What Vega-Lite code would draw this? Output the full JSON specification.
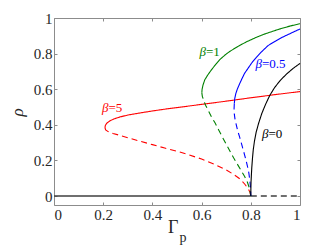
{
  "$schema": "https://vega.github.io/schema/vega-lite/v6.json",
  "width": 246,
  "height": 187,
  "autosize": {"type": "none"},
  "padding": {"left": 54, "top": 18, "right": 32, "bottom": 44},
  "background": "white",
  "config": {
    "view": {"stroke": null},
    "axis": {
      "labelFont": "Liberation Serif, serif",
      "labelFontSize": 15,
      "labelColor": "#262626",
      "domainColor": "#8c8c8c",
      "tickColor": "#8c8c8c",
      "tickSize": -3,
      "grid": false,
      "labelPadding": 5
    },
    "text": {"font": "Liberation Serif, serif"}
  },
  "datasets": {
    "curves": [
      {"g": "zero_s", "s": "zero", "d": "solid", "i": 0, "x": 0, "y": 0},
      {"g": "zero_s", "s": "zero", "d": "solid", "i": 1, "x": 0.8, "y": 0},
      {"g": "zero_d", "s": "zero", "d": "dashed", "i": 0, "x": 0.8, "y": 0},
      {"g": "zero_d", "s": "zero", "d": "dashed", "i": 1, "x": 1.0, "y": 0},

      {"g": "b5u", "s": "b5", "d": "solid", "i": 0, "x": 0.207, "y": 0.385},
      {"g": "b5u", "s": "b5", "d": "solid", "i": 1, "x": 0.209, "y": 0.398},
      {"g": "b5u", "s": "b5", "d": "solid", "i": 2, "x": 0.215, "y": 0.41},
      {"g": "b5u", "s": "b5", "d": "solid", "i": 3, "x": 0.228, "y": 0.423},
      {"g": "b5u", "s": "b5", "d": "solid", "i": 4, "x": 0.245, "y": 0.434},
      {"g": "b5u", "s": "b5", "d": "solid", "i": 5, "x": 0.27, "y": 0.445},
      {"g": "b5u", "s": "b5", "d": "solid", "i": 6, "x": 0.3, "y": 0.455},
      {"g": "b5u", "s": "b5", "d": "solid", "i": 7, "x": 0.35, "y": 0.467},
      {"g": "b5u", "s": "b5", "d": "solid", "i": 8, "x": 0.4, "y": 0.478},
      {"g": "b5u", "s": "b5", "d": "solid", "i": 9, "x": 0.45, "y": 0.488},
      {"g": "b5u", "s": "b5", "d": "solid", "i": 10, "x": 0.5, "y": 0.497},
      {"g": "b5u", "s": "b5", "d": "solid", "i": 11, "x": 0.6, "y": 0.515},
      {"g": "b5u", "s": "b5", "d": "solid", "i": 12, "x": 0.7, "y": 0.533},
      {"g": "b5u", "s": "b5", "d": "solid", "i": 13, "x": 0.8, "y": 0.552},
      {"g": "b5u", "s": "b5", "d": "solid", "i": 14, "x": 0.9, "y": 0.57},
      {"g": "b5u", "s": "b5", "d": "solid", "i": 15, "x": 1.0, "y": 0.587},

      {"g": "b5l", "s": "b5", "d": "dashed", "i": 0, "x": 0.207, "y": 0.385},
      {"g": "b5l", "s": "b5", "d": "dashed", "i": 1, "x": 0.21, "y": 0.372},
      {"g": "b5l", "s": "b5", "d": "dashed", "i": 2, "x": 0.22, "y": 0.362},
      {"g": "b5l", "s": "b5", "d": "dashed", "i": 3, "x": 0.24, "y": 0.352},
      {"g": "b5l", "s": "b5", "d": "dashed", "i": 4, "x": 0.27, "y": 0.34},
      {"g": "b5l", "s": "b5", "d": "dashed", "i": 5, "x": 0.3, "y": 0.328},
      {"g": "b5l", "s": "b5", "d": "dashed", "i": 6, "x": 0.35, "y": 0.308},
      {"g": "b5l", "s": "b5", "d": "dashed", "i": 7, "x": 0.4, "y": 0.289},
      {"g": "b5l", "s": "b5", "d": "dashed", "i": 8, "x": 0.45, "y": 0.27},
      {"g": "b5l", "s": "b5", "d": "dashed", "i": 9, "x": 0.5, "y": 0.252},
      {"g": "b5l", "s": "b5", "d": "dashed", "i": 10, "x": 0.55, "y": 0.231},
      {"g": "b5l", "s": "b5", "d": "dashed", "i": 11, "x": 0.6, "y": 0.208},
      {"g": "b5l", "s": "b5", "d": "dashed", "i": 12, "x": 0.65, "y": 0.18},
      {"g": "b5l", "s": "b5", "d": "dashed", "i": 13, "x": 0.7, "y": 0.147},
      {"g": "b5l", "s": "b5", "d": "dashed", "i": 14, "x": 0.73, "y": 0.122},
      {"g": "b5l", "s": "b5", "d": "dashed", "i": 15, "x": 0.755, "y": 0.097},
      {"g": "b5l", "s": "b5", "d": "dashed", "i": 16, "x": 0.775, "y": 0.068},
      {"g": "b5l", "s": "b5", "d": "dashed", "i": 17, "x": 0.79, "y": 0.04},
      {"g": "b5l", "s": "b5", "d": "dashed", "i": 18, "x": 0.797, "y": 0.02},
      {"g": "b5l", "s": "b5", "d": "dashed", "i": 19, "x": 0.8, "y": 0.0},

      {"g": "b1u", "s": "b1", "d": "solid", "i": 0, "x": 0.601, "y": 0.58},
      {"g": "b1u", "s": "b1", "d": "solid", "i": 1, "x": 0.602, "y": 0.6},
      {"g": "b1u", "s": "b1", "d": "solid", "i": 2, "x": 0.606, "y": 0.625},
      {"g": "b1u", "s": "b1", "d": "solid", "i": 3, "x": 0.613, "y": 0.653},
      {"g": "b1u", "s": "b1", "d": "solid", "i": 4, "x": 0.625, "y": 0.68},
      {"g": "b1u", "s": "b1", "d": "solid", "i": 5, "x": 0.64, "y": 0.709},
      {"g": "b1u", "s": "b1", "d": "solid", "i": 6, "x": 0.656, "y": 0.737},
      {"g": "b1u", "s": "b1", "d": "solid", "i": 7, "x": 0.673, "y": 0.765},
      {"g": "b1u", "s": "b1", "d": "solid", "i": 8, "x": 0.695, "y": 0.792},
      {"g": "b1u", "s": "b1", "d": "solid", "i": 9, "x": 0.714, "y": 0.812},
      {"g": "b1u", "s": "b1", "d": "solid", "i": 10, "x": 0.75, "y": 0.842},
      {"g": "b1u", "s": "b1", "d": "solid", "i": 11, "x": 0.782, "y": 0.866},
      {"g": "b1u", "s": "b1", "d": "solid", "i": 12, "x": 0.82, "y": 0.89},
      {"g": "b1u", "s": "b1", "d": "solid", "i": 13, "x": 0.86, "y": 0.912},
      {"g": "b1u", "s": "b1", "d": "solid", "i": 14, "x": 0.917, "y": 0.938},
      {"g": "b1u", "s": "b1", "d": "solid", "i": 15, "x": 0.96, "y": 0.955},
      {"g": "b1u", "s": "b1", "d": "solid", "i": 16, "x": 1.0, "y": 0.968},

      {"g": "b1l", "s": "b1", "d": "dashed", "i": 0, "x": 0.601, "y": 0.58},
      {"g": "b1l", "s": "b1", "d": "dashed", "i": 1, "x": 0.603, "y": 0.56},
      {"g": "b1l", "s": "b1", "d": "dashed", "i": 2, "x": 0.608, "y": 0.54},
      {"g": "b1l", "s": "b1", "d": "dashed", "i": 3, "x": 0.616, "y": 0.51},
      {"g": "b1l", "s": "b1", "d": "dashed", "i": 4, "x": 0.626, "y": 0.484},
      {"g": "b1l", "s": "b1", "d": "dashed", "i": 5, "x": 0.64, "y": 0.445},
      {"g": "b1l", "s": "b1", "d": "dashed", "i": 6, "x": 0.655, "y": 0.41},
      {"g": "b1l", "s": "b1", "d": "dashed", "i": 7, "x": 0.67, "y": 0.37},
      {"g": "b1l", "s": "b1", "d": "dashed", "i": 8, "x": 0.685, "y": 0.33},
      {"g": "b1l", "s": "b1", "d": "dashed", "i": 9, "x": 0.7, "y": 0.292},
      {"g": "b1l", "s": "b1", "d": "dashed", "i": 10, "x": 0.715, "y": 0.253},
      {"g": "b1l", "s": "b1", "d": "dashed", "i": 11, "x": 0.73, "y": 0.215},
      {"g": "b1l", "s": "b1", "d": "dashed", "i": 12, "x": 0.745, "y": 0.18},
      {"g": "b1l", "s": "b1", "d": "dashed", "i": 13, "x": 0.76, "y": 0.145},
      {"g": "b1l", "s": "b1", "d": "dashed", "i": 14, "x": 0.775, "y": 0.11},
      {"g": "b1l", "s": "b1", "d": "dashed", "i": 15, "x": 0.787, "y": 0.075},
      {"g": "b1l", "s": "b1", "d": "dashed", "i": 16, "x": 0.795, "y": 0.042},
      {"g": "b1l", "s": "b1", "d": "dashed", "i": 17, "x": 0.8, "y": 0.0},

      {"g": "b05u", "s": "b05", "d": "solid", "i": 0, "x": 0.733, "y": 0.52},
      {"g": "b05u", "s": "b05", "d": "solid", "i": 1, "x": 0.735, "y": 0.55},
      {"g": "b05u", "s": "b05", "d": "solid", "i": 2, "x": 0.739, "y": 0.575},
      {"g": "b05u", "s": "b05", "d": "solid", "i": 3, "x": 0.745, "y": 0.6},
      {"g": "b05u", "s": "b05", "d": "solid", "i": 4, "x": 0.755, "y": 0.632},
      {"g": "b05u", "s": "b05", "d": "solid", "i": 5, "x": 0.765, "y": 0.662},
      {"g": "b05u", "s": "b05", "d": "solid", "i": 6, "x": 0.775, "y": 0.69},
      {"g": "b05u", "s": "b05", "d": "solid", "i": 7, "x": 0.79, "y": 0.72},
      {"g": "b05u", "s": "b05", "d": "solid", "i": 8, "x": 0.805, "y": 0.75},
      {"g": "b05u", "s": "b05", "d": "solid", "i": 9, "x": 0.822, "y": 0.778},
      {"g": "b05u", "s": "b05", "d": "solid", "i": 10, "x": 0.845, "y": 0.812},
      {"g": "b05u", "s": "b05", "d": "solid", "i": 11, "x": 0.87, "y": 0.845},
      {"g": "b05u", "s": "b05", "d": "solid", "i": 12, "x": 0.9, "y": 0.87},
      {"g": "b05u", "s": "b05", "d": "solid", "i": 13, "x": 0.93, "y": 0.893},
      {"g": "b05u", "s": "b05", "d": "solid", "i": 14, "x": 0.965, "y": 0.916},
      {"g": "b05u", "s": "b05", "d": "solid", "i": 15, "x": 1.0, "y": 0.938},

      {"g": "b05l", "s": "b05", "d": "dashed", "i": 0, "x": 0.733, "y": 0.52},
      {"g": "b05l", "s": "b05", "d": "dashed", "i": 1, "x": 0.732, "y": 0.49},
      {"g": "b05l", "s": "b05", "d": "dashed", "i": 2, "x": 0.733, "y": 0.46},
      {"g": "b05l", "s": "b05", "d": "dashed", "i": 3, "x": 0.736, "y": 0.43},
      {"g": "b05l", "s": "b05", "d": "dashed", "i": 4, "x": 0.741, "y": 0.4},
      {"g": "b05l", "s": "b05", "d": "dashed", "i": 5, "x": 0.747, "y": 0.365},
      {"g": "b05l", "s": "b05", "d": "dashed", "i": 6, "x": 0.755, "y": 0.33},
      {"g": "b05l", "s": "b05", "d": "dashed", "i": 7, "x": 0.763, "y": 0.29},
      {"g": "b05l", "s": "b05", "d": "dashed", "i": 8, "x": 0.771, "y": 0.25},
      {"g": "b05l", "s": "b05", "d": "dashed", "i": 9, "x": 0.779, "y": 0.21},
      {"g": "b05l", "s": "b05", "d": "dashed", "i": 10, "x": 0.786, "y": 0.17},
      {"g": "b05l", "s": "b05", "d": "dashed", "i": 11, "x": 0.792, "y": 0.13},
      {"g": "b05l", "s": "b05", "d": "dashed", "i": 12, "x": 0.796, "y": 0.09},
      {"g": "b05l", "s": "b05", "d": "dashed", "i": 13, "x": 0.799, "y": 0.045},
      {"g": "b05l", "s": "b05", "d": "dashed", "i": 14, "x": 0.8, "y": 0.0},

      {"g": "b0", "s": "b0", "d": "solid", "i": 0, "x": 0.8, "y": 0},
      {"g": "b0", "s": "b0", "d": "solid", "i": 1, "x": 0.8003, "y": 0.04},
      {"g": "b0", "s": "b0", "d": "solid", "i": 2, "x": 0.801, "y": 0.08},
      {"g": "b0", "s": "b0", "d": "solid", "i": 3, "x": 0.802, "y": 0.109},
      {"g": "b0", "s": "b0", "d": "solid", "i": 4, "x": 0.804, "y": 0.16},
      {"g": "b0", "s": "b0", "d": "solid", "i": 5, "x": 0.807, "y": 0.215},
      {"g": "b0", "s": "b0", "d": "solid", "i": 6, "x": 0.81, "y": 0.26},
      {"g": "b0", "s": "b0", "d": "solid", "i": 7, "x": 0.815, "y": 0.31},
      {"g": "b0", "s": "b0", "d": "solid", "i": 8, "x": 0.822, "y": 0.36},
      {"g": "b0", "s": "b0", "d": "solid", "i": 9, "x": 0.832, "y": 0.41},
      {"g": "b0", "s": "b0", "d": "solid", "i": 10, "x": 0.845, "y": 0.465},
      {"g": "b0", "s": "b0", "d": "solid", "i": 11, "x": 0.86, "y": 0.515},
      {"g": "b0", "s": "b0", "d": "solid", "i": 12, "x": 0.877, "y": 0.565},
      {"g": "b0", "s": "b0", "d": "solid", "i": 13, "x": 0.897, "y": 0.61},
      {"g": "b0", "s": "b0", "d": "solid", "i": 14, "x": 0.92, "y": 0.65},
      {"g": "b0", "s": "b0", "d": "solid", "i": 15, "x": 0.945, "y": 0.685},
      {"g": "b0", "s": "b0", "d": "solid", "i": 16, "x": 0.972, "y": 0.717},
      {"g": "b0", "s": "b0", "d": "solid", "i": 17, "x": 1.0, "y": 0.745}
    ],
    "labels": [
      {"s": "b5", "b": "β", "t": "=5", "x": 0.2215, "y": 0.495},
      {"s": "b1", "b": "β", "t": "=1", "x": 0.618, "y": 0.81},
      {"s": "b05", "b": "β", "t": "=0.5", "x": 0.8455, "y": 0.743},
      {"s": "b0", "b": "β", "t": "=0", "x": 0.872, "y": 0.349}
    ]
  },
  "layer": [
    {
      "data": {"name": "curves"},
      "transform": [{"filter": "datum.s === 'zero'"}],
      "mark": {"type": "line", "strokeWidth": 1.5, "color": "#404040"},
      "encoding": {
        "x": {"field": "x", "type": "quantitative",
              "scale": {"domain": [0, 1], "nice": false, "zero": false},
              "axis": {"orient": "bottom", "values": [0, 0.2, 0.4, 0.6, 0.8, 1], "format": "~g", "title": null,
                       "labelFont": "Liberation Serif, serif", "labelFontSize": 15}},
        "y": {"field": "y", "type": "quantitative",
              "scale": {"domain": [-0.05, 1], "nice": false, "zero": false},
              "axis": {"orient": "left", "values": [0, 0.2, 0.4, 0.6, 0.8, 1], "format": "~g",
                       "labelFont": "Liberation Serif, serif", "labelFontSize": 15,
                       "title": "ρ", "titleFont": "Liberation Serif, serif", "titleFontStyle": "italic",
                       "titleFontWeight": "normal", "titleFontSize": 17, "titleColor": "#262626",
                       "titleX": -37, "titleY": 94, "titleAngle": 270, "titleAlign": "center", "titleBaseline": "middle"}},
        "detail": {"field": "g"},
        "order": {"field": "i"},
        "strokeDash": {"field": "d", "type": "nominal",
                       "scale": {"domain": ["solid", "dashed"], "range": [[1, 0], [6, 4]]}, "legend": null}
      }
    },
    {
      "data": {"name": "curves"},
      "transform": [{"filter": "datum.s !== 'zero'"}],
      "mark": {"type": "line", "strokeWidth": 1.1},
      "encoding": {
        "x": {"field": "x", "type": "quantitative",
              "axis": {"orient": "top", "values": [0, 0.2, 0.4, 0.6, 0.8, 1], "labels": false, "title": null}},
        "y": {"field": "y", "type": "quantitative",
              "axis": {"orient": "right", "values": [0, 0.2, 0.4, 0.6, 0.8, 1], "labels": false, "title": null}},
        "detail": {"field": "g"},
        "order": {"field": "i"},
        "color": {"field": "s", "type": "nominal",
                  "scale": {"domain": ["b0", "b05", "b1", "b5"], "range": ["#000000", "#0000ff", "#008000", "#ff0000"]},
                  "legend": null},
        "strokeDash": {"field": "d", "type": "nominal", "legend": null}
      }
    },
    {
      "data": {"name": "labels"},
      "mark": {"type": "text", "font": "Liberation Serif, serif", "fontSize": 13, "fontStyle": "italic", "align": "right", "baseline": "middle"},
      "encoding": {
        "x": {"field": "x", "type": "quantitative", "axis": null},
        "y": {"field": "y", "type": "quantitative", "axis": null},
        "text": {"field": "b"},
        "color": {"field": "s", "type": "nominal", "legend": null}
      }
    },
    {
      "data": {"name": "labels"},
      "mark": {"type": "text", "font": "Liberation Serif, serif", "fontSize": 13, "align": "left", "baseline": "middle"},
      "encoding": {
        "x": {"field": "x", "type": "quantitative", "axis": null},
        "y": {"field": "y", "type": "quantitative", "axis": null},
        "text": {"field": "t"},
        "color": {"field": "s", "type": "nominal", "legend": null}
      }
    },
    {
      "data": {"values": [{"t": "Γ", "x": 0.485, "y": -0.18}]},
      "mark": {"type": "text", "font": "Liberation Serif, serif", "fontSize": 18, "align": "center", "baseline": "middle", "color": "#262626"},
      "encoding": {
        "x": {"field": "x", "type": "quantitative", "axis": null},
        "y": {"field": "y", "type": "quantitative", "axis": null},
        "text": {"field": "t"}
      }
    },
    {
      "data": {"values": [{"t": "p", "x": 0.524, "y": -0.235}]},
      "mark": {"type": "text", "font": "Liberation Serif, serif", "fontSize": 14, "align": "center", "baseline": "middle", "color": "#262626"},
      "encoding": {
        "x": {"field": "x", "type": "quantitative", "axis": null},
        "y": {"field": "y", "type": "quantitative", "axis": null},
        "text": {"field": "t"}
      }
    }
  ]
}
